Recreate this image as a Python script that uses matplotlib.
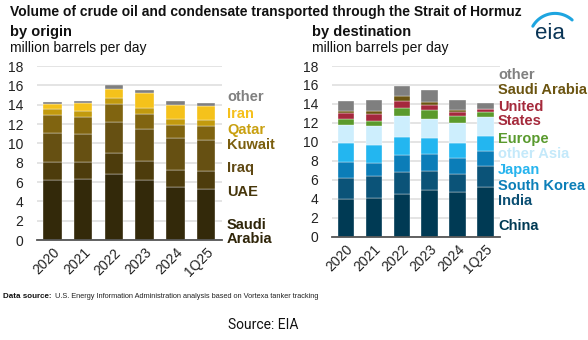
import numpy as np
import matplotlib
matplotlib.use("Agg")
import matplotlib.pyplot as plt

plt.rcParams["font.family"] = ["Liberation Sans", "DejaVu Sans"]

PERIODS = ["2020", "2021", "2022", "2023", "2024", "1Q25"]

# crude oil and condensate by origin, million b/d (stacked bottom to top)
ORIGINS = ["Saudi\nArabia", "UAE", "Iraq", "Kuwait", "Qatar", "Iran", "other"]
saudi = [6.20, 6.27, 6.80, 6.17, 5.45, 5.24]
uae = [1.85, 1.76, 2.25, 2.03, 1.82, 1.86]
iraq = [3.00, 2.90, 3.15, 3.24, 3.31, 3.24]
kuwait = [1.85, 1.79, 1.85, 1.62, 1.32, 1.42]
qatar = [0.70, 0.65, 0.60, 0.63, 0.60, 0.65]
iran = [0.45, 0.80, 1.00, 1.54, 1.46, 1.48]
other_origin = [0.20, 0.20, 0.35, 0.27, 0.38, 0.28]
ORIGIN_COLORS = ["#33290a", "#4d3c0c", "#665012", "#806410", "#c29a0e", "#f5c21b", "#7f7f7f"]
ORIGIN_TEXT = ["#2f2509", "#46360b", "#5f4812", "#7b5e0e", "#c9a010", "#f5c01c", "#808080"]
ORIGIN_LABEL_Y = [232, 192, 168, 145, 130, 114, 97]

# by destination, million b/d (stacked bottom to top)
DESTS = ["China", "India", "South Korea", "Japan", "other Asia", "Europe",
         "United\nStates", "Saudi Arabia", "other"]
china = [3.93, 4.10, 4.53, 4.95, 4.74, 5.26]
india = [2.25, 2.29, 2.31, 2.00, 1.89, 2.18]
skorea = [1.72, 1.40, 1.76, 1.75, 1.69, 1.61]
japan = [1.93, 1.83, 1.89, 1.69, 1.58, 1.58]
other_asia = [1.96, 2.03, 2.25, 2.07, 2.07, 1.95]
europe = [0.60, 0.56, 0.88, 0.95, 0.73, 0.57]
us = [0.66, 0.74, 0.66, 0.49, 0.50, 0.28]
saudi_dest = [0.18, 0.28, 0.56, 0.28, 0.17, 0.07]
other_dest = [1.05, 1.16, 1.10, 1.29, 1.08, 0.63]
DEST_COLORS = ["#003a54", "#0b5378", "#0b7db8", "#23b6f0", "#cdeefd", "#5b9a2c",
               "#a5283d", "#6b5410", "#7f7f7f"]
DEST_TEXT = ["#003a54", "#0b4f73", "#0c7fb8", "#27b4ee", "#c4e9fa", "#5a9a2e",
             "#a52a3c", "#6b5410", "#808080"]
DEST_LABEL_Y = [226, 201, 186, 170, 154, 139, 114, 90, 75]

W, H = 588, 340


def fx(px):
    return px / W


def fy(py):
    return 1 - py / H


def stacked(ax, series, colors, width):
    x = np.arange(len(PERIODS))
    bottom = np.zeros(len(PERIODS))
    for vals, c in zip(series, colors):
        ax.bar(x, vals, width=width, bottom=bottom, color=c, edgecolor="white",
               linewidth=0.25, zorder=3)
        bottom += np.array(vals)
    ax.set_xlim(-0.5, 5.52)
    ax.set_ylim(0, 18)
    ax.set_yticks(range(0, 19, 2))
    ax.set_xticks(x)
    ax.set_xticklabels(PERIODS, rotation=45, ha="right", rotation_mode="anchor",
                       fontsize=10)
    ax.tick_params(axis="y", length=0, pad=10, labelsize=10, labelcolor="#222222")
    ax.tick_params(axis="x", length=0, pad=4, labelcolor="#222222")
    ax.grid(axis="y", color="#dcdcdc", lw=1.1, zorder=0)
    for s in ("left", "right", "top"):
        ax.spines[s].set_visible(False)
    ax.spines["bottom"].set_color("#555555")
    ax.spines["bottom"].set_linewidth(1.3)
    ax.spines["bottom"].set_zorder(4)


fig = plt.figure(figsize=(W / 100, H / 100), dpi=100)

ax1 = fig.add_axes([fx(37), fy(240), fx(222 - 37), fy(66) - fy(240)])
stacked(ax1, [saudi, uae, iraq, kuwait, qatar, iran, other_origin], ORIGIN_COLORS, 0.6)
ax2 = fig.add_axes([fx(332), fy(236.7), fx(500 - 332), fy(66) - fy(236.7)])
stacked(ax2, [china, india, skorea, japan, other_asia, europe, us, saudi_dest, other_dest],
        DEST_COLORS, 0.59)

# series labels down the right side of each panel
for name, c, y in zip(ORIGINS, ORIGIN_TEXT, ORIGIN_LABEL_Y):
    fig.text(fx(227), fy(y), name, color=c, fontsize=10.5, fontweight="bold",
             va="center", ha="left", linespacing=1.05)
for name, c, y in zip(DESTS, DEST_TEXT, DEST_LABEL_Y):
    fig.text(fx(498), fy(y), name, color=c, fontsize=10.5, fontweight="bold",
             va="center", ha="left", linespacing=1.05)

fig.text(fx(10), fy(12), "Volume of crude oil and condensate transported through the Strait of Hormuz",
         fontsize=10, fontweight="bold", va="center", ha="left", color="#111111")
fig.text(fx(10), fy(32), "by origin", fontsize=10.5, fontweight="bold", va="center", color="#111111")
fig.text(fx(10), fy(48), "million barrels per day", fontsize=10, va="center", color="#111111")
fig.text(fx(312), fy(32), "by destination", fontsize=10.5, fontweight="bold", va="center", color="#111111")
fig.text(fx(312), fy(48), "million barrels per day", fontsize=10, va="center", color="#111111")

# eia logo: swoosh over the lowercase wordmark
logo = fig.add_axes([fx(518), fy(46), fx(60), fy(6) - fy(46)])
logo.set_xlim(0, 60)
logo.set_ylim(0, 40)
logo.axis("off")
t = np.radians(np.linspace(48, 150, 60))
logo.plot(37 + 25.6 * np.cos(t), 7 + 25.6 * np.sin(t), color="#1ea5e0", lw=2.2,
          solid_capstyle="round")
logo.text(32, 12.5, "eia", fontsize=16, color="#0a3556", ha="center", va="center")

# footer: bold lead-in, then the rest placed right after it
fig.text(fx(3), fy(297), "Data source:", fontsize=5.8, fontweight="bold",
         va="center", ha="left", color="#111111")
fig.text(fx(55), fy(297), "U.S. Energy Information Administration analysis based on Vortexa tanker tracking",
         fontsize=5.3, va="center", ha="left", color="#222222")
fig.text(fx(263), fy(325), "Source: EIA", fontsize=10, va="center", ha="center", color="#111111",
         family=["Roboto", "DejaVu Sans"])

fig.savefig("out.png", dpi=100)
